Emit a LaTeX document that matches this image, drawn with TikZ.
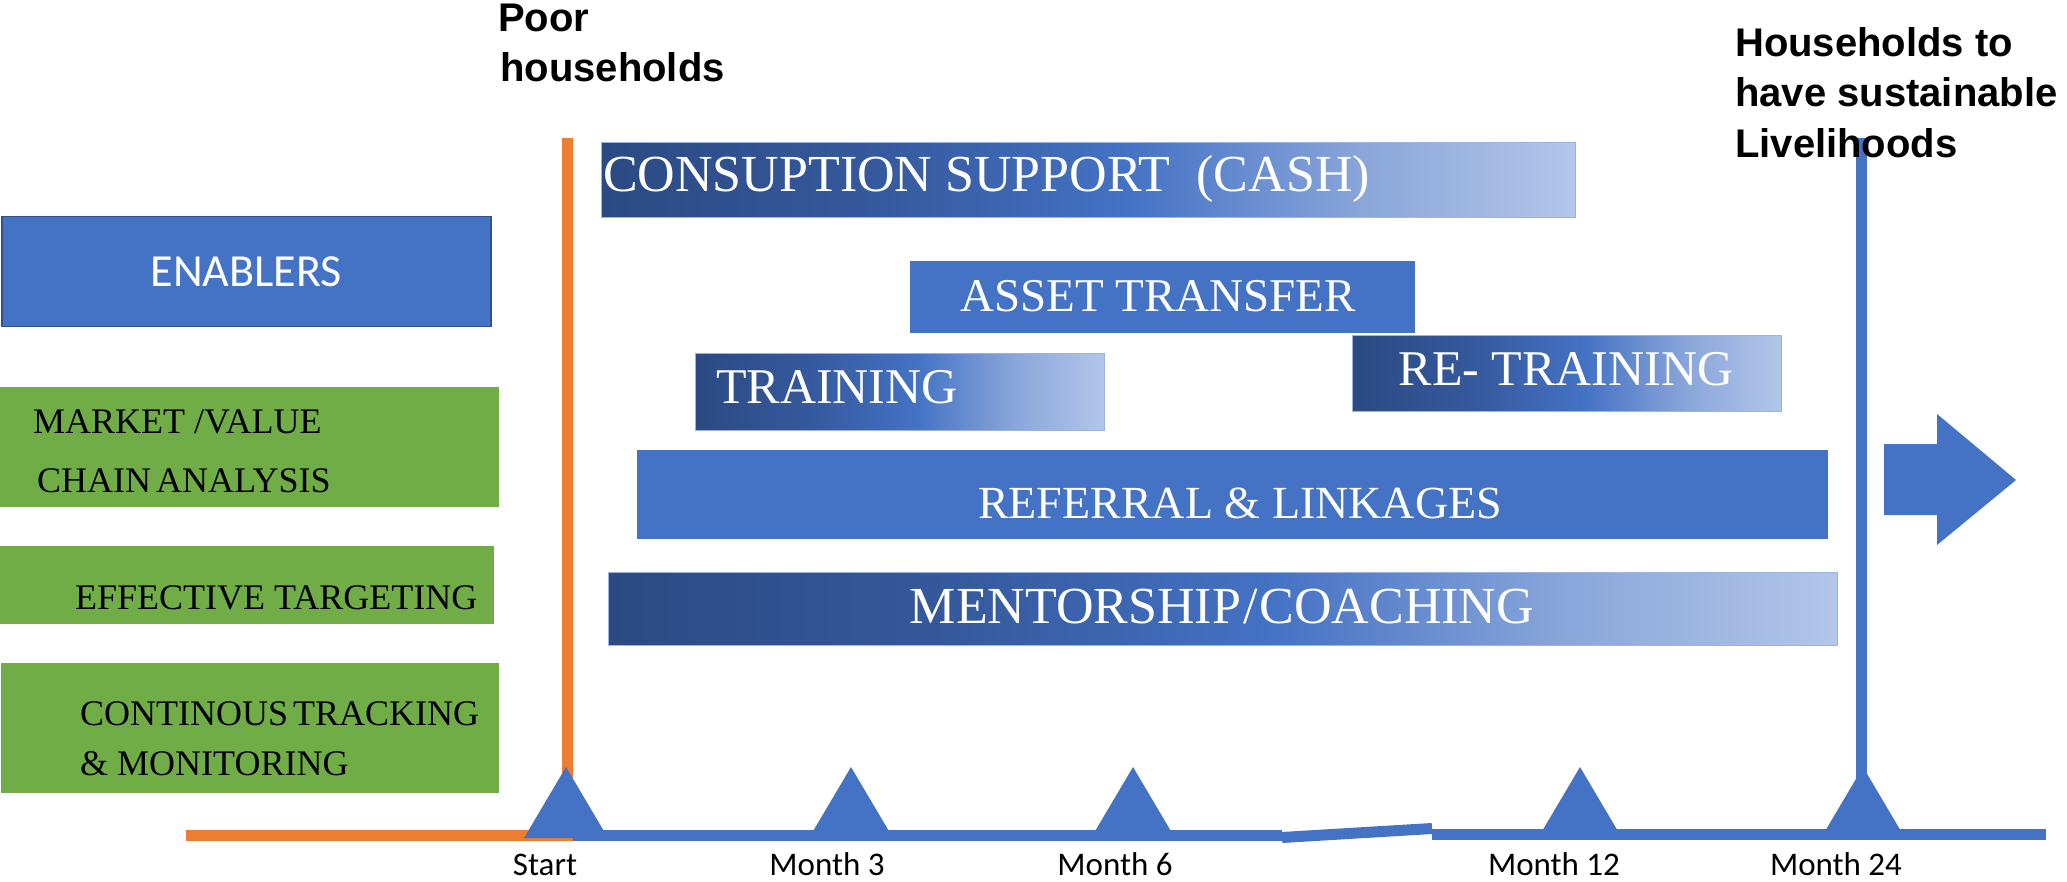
\documentclass[tikz,border=0pt]{standalone}
\usepackage{fontspec}
\setmainfont{Liberation Serif}
\newfontfamily\labelfont{Carlito}
\newfontfamily\headfont{Liberation Sans}
\usepackage{tikz}

\definecolor{accblue}{HTML}{4472C4}
\definecolor{accorange}{HTML}{ED7D31}
\definecolor{accgreen}{HTML}{70AD47}
\definecolor{edgeblue}{HTML}{2F528F}
\definecolor{navy}{HTML}{2B4A82}
\definecolor{deepblue}{HTML}{35599D}
\definecolor{softblue}{HTML}{8AA6DA}
\definecolor{paleblue}{HTML}{B3C6EA}
\definecolor{barline}{HTML}{9CB4E2}
\pgfdeclarehorizontalshading{barfade}{100bp}{color(0bp)=(navy); color(25bp)=(navy); color(39bp)=(deepblue); color(52bp)=(accblue); color(64bp)=(softblue); color(75bp)=(paleblue); color(100bp)=(paleblue)}

\begin{document}
\begin{tikzpicture}[x=1pt, y=-1pt,
    enabler/.style={draw=edgeblue, line width=1.5pt, fill=accblue, text=white, anchor=north west, inner sep=0pt,
      minimum width=489pt, minimum height=110pt, font=\labelfont\fontsize{46}{52}\selectfont},
    greenbox/.style={fill=accgreen, anchor=north west, inner sep=0pt},
    greentext/.style={anchor=base west, inner sep=0pt, font=\fontsize{36}{40}\selectfont},
    shadebar/.style={shade, shading=barfade, draw=barline, line width=1.2pt, anchor=north west, inner sep=0pt},
    flatbar/.style={fill=accblue, anchor=north west, inner sep=0pt},
    bartext/.style={text=white, anchor=base, inner sep=0pt, font=\fontsize{50}{56}\selectfont},
    headtext/.style={anchor=base west, inner sep=0pt, font=\headfont\bfseries\fontsize{40}{46}\selectfont},
    monthlbl/.style={anchor=base, inner sep=0pt, font=\labelfont\fontsize{33}{38}\selectfont},
    timeline/.style={line width=11pt, draw=accblue}]
  \useasboundingbox (0,0) rectangle (2067,882);

  \node[enabler] (enablers) at (1,216) {ENABLERS};
  \node[greenbox, minimum width=499pt, minimum height=120pt] (market) at (0,387) {};
  \node[greentext] (market1) at (33,433) {MARKET /VALUE};
  \node[greentext] (market2) at (37,492) {CHAIN\kern5pt ANALYSIS};
  \node[greenbox, minimum width=494pt, minimum height=78pt] (target) at (0,546) {};
  \node[greentext] (target1) at (75,609) {EFFECTIVE TARGETING};
  \node[greenbox, minimum width=498pt, minimum height=130pt] (track) at (1,663) {};
  \node[greentext] (track1) at (80,725) {CONTINOUS\kern5pt TRACKING};
  \node[greentext] (track2) at (80,775) {\& MONITORING};

  \draw[timeline, draw=accorange] (186,835) -- (567,835) -- (567,138);
  \draw[timeline] (573,835) -- (1282,835);
  \draw[timeline] (1282,837.5) -- (1432,828.5);
  \draw[timeline] (1432,834.5) -- (2046,834.5);
  \draw[timeline] (1861,138) -- (1861,834);
  \foreach \x in {566,851,1133,1580,1863}
    \fill[accblue] (\x-42,838) -- (\x,767) -- (\x+42,838) -- cycle;
  \foreach \x/\txt [count=\i] in {545/Start, 827/Month 3, 1115/Month 6, 1554/Month 12, 1836/Month 24}
    \node[monthlbl] (month\i) at (\x,875) {\txt};
  \fill[accblue] (1884,444) -- (1937,444) -- (1937,414) -- (2016,480) -- (1937,545) -- (1937,515) -- (1884,515) -- cycle;

  \node[shadebar, minimum width=974pt, minimum height=75pt] (cash) at (601,142) {};
  \node[bartext, anchor=base west, font=\fontsize{52}{58}\selectfont] (cashtext) at (603,192) {CONSUPTION SUPPORT \ (CASH)};
  \node[flatbar, minimum width=505pt, minimum height=72pt] (asset) at (910,261) {};
  \node[bartext, font=\fontsize{47}{54}\selectfont] (assettext) at (1158,312) {ASSET TRANSFER};
  \node[shadebar, minimum width=409pt, minimum height=77pt] (train) at (695,353) {};
  \node[bartext, anchor=base west] (traintext) at (716,404) {TRAINING};
  \node[shadebar, minimum width=429pt, minimum height=76pt] (retrain) at (1352,335) {};
  \node[bartext] (retraintext) at (1566,386) {RE- TRAINING};
  \node[flatbar, minimum width=1191pt, minimum height=89pt] (refer) at (637,450) {};
  \node[bartext, font=\fontsize{46}{52}\selectfont] (refertext) at (1240,518) {REFERRAL \& LINKAGES};
  \node[shadebar, minimum width=1229pt, minimum height=73pt] (mentor) at (608,572) {};
  \node[bartext, font=\fontsize{52}{58}\selectfont] (mentortext) at (1222,623) {MENTORSHIP\kern2pt/\kern2pt COACHING};

  \node[headtext] (poor1) at (498,32) {Poor};
  \node[headtext] (poor2) at (500,82) {households};
  \node[headtext] (goal1) at (1735,57) {Households to};
  \node[headtext] (goal2) at (1735,107) {have sustainable};
  \node[headtext] (goal3) at (1735,158) {Livelihoods};
\end{tikzpicture}
\end{document}
